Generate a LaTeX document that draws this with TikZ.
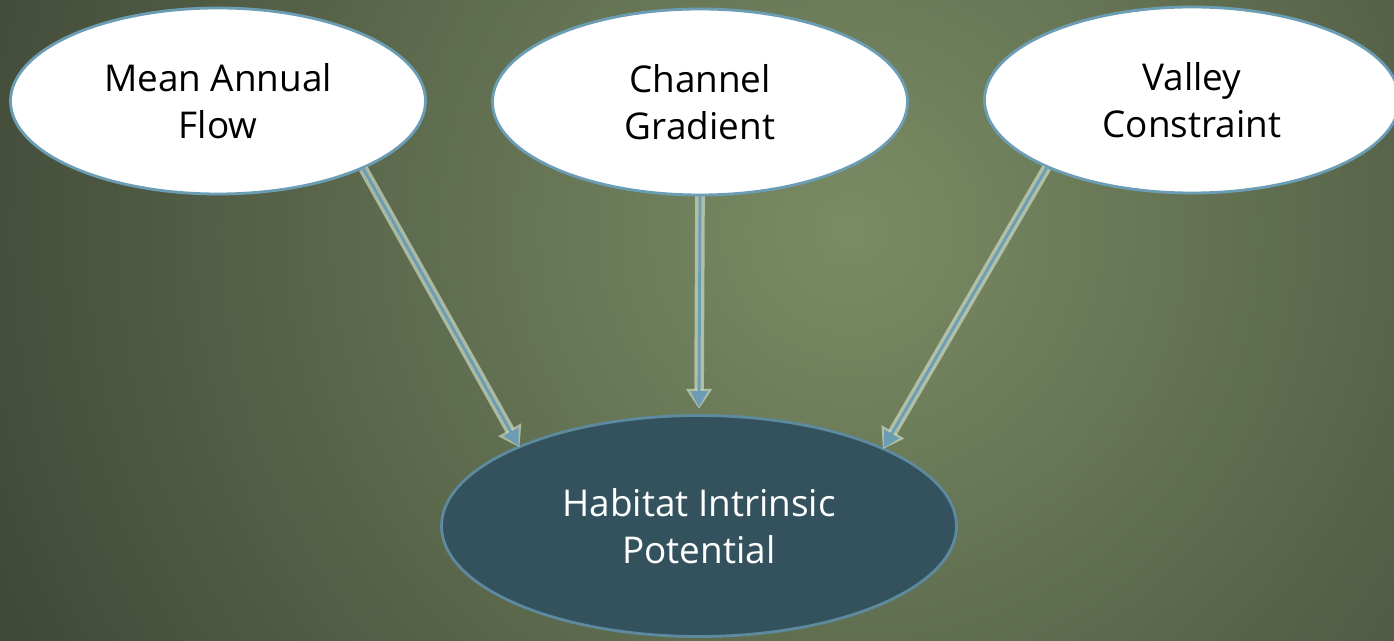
\documentclass[tikz,border=0pt]{standalone}
\usepackage{fontspec}
\setmainfont{Open Sans}
\usepackage{tikz}
\usepackage{xcolor}
\usetikzlibrary{arrows.meta,shapes.geometric}
\definecolor{Olive}{HTML}{3C4434}
\definecolor{OliveLight}{HTML}{7A8C64}
\definecolor{Steel}{HTML}{6B9DB5}
\definecolor{Slate}{HTML}{33525E}
\definecolor{Halo}{HTML}{CCDAC4}

\begin{document}
\begin{tikzpicture}[
  factor/.style={ellipse,draw=Steel,line width=1.6pt,fill=white,minimum width=8.3cm,minimum height=3.72cm,align=center,font=\fontsize{21}{27}\selectfont,text=black},
  target/.style={ellipse,draw=Steel!75!Slate,line width=1.6pt,fill=Slate,minimum width=10.3cm,minimum height=4.42cm,align=center,font=\fontsize{21}{27}\selectfont,text=white},
  halo/.style={draw=Halo,line width=5.5pt,opacity=0.7,-{Triangle[length=4mm,width=5mm]},shorten >=-1pt},
  arrow/.style={-{Triangle[length=3.2mm,width=3.4mm]},line width=1.6pt,draw=Steel}
]
\begin{scope}
  \clip (0,0) rectangle (27.88,-12.82);
  \shade[inner color=OliveLight,outer color=Olive] (17,-4.6) circle (20cm);
\end{scope}
\useasboundingbox (0,0) rectangle (27.88,-12.82);
\node[factor] (flow) at (4.36,-2.02) {Mean Annual\\Flow};
\node[factor] (grad) at (14.0,-2.04) {Channel\\Gradient};
\node[factor] (valley) at (23.84,-2.0) {Valley\\Constraint};
\node[target] (hip) at (13.98,-10.52) {Habitat Intrinsic\\Potential};
% halos under the arrows
\draw[halo] (flow.-25) -- (hip.156);
\draw[halo] (grad.south) -- ([yshift=4pt]hip.north);
\draw[halo] (valley.205) -- (hip.23);
\draw[arrow] (flow.-25) -- (hip.156);
\draw[arrow] (grad.south) -- ([yshift=4pt]hip.north);
\draw[arrow] (valley.205) -- (hip.23);
\end{tikzpicture}
\end{document}
